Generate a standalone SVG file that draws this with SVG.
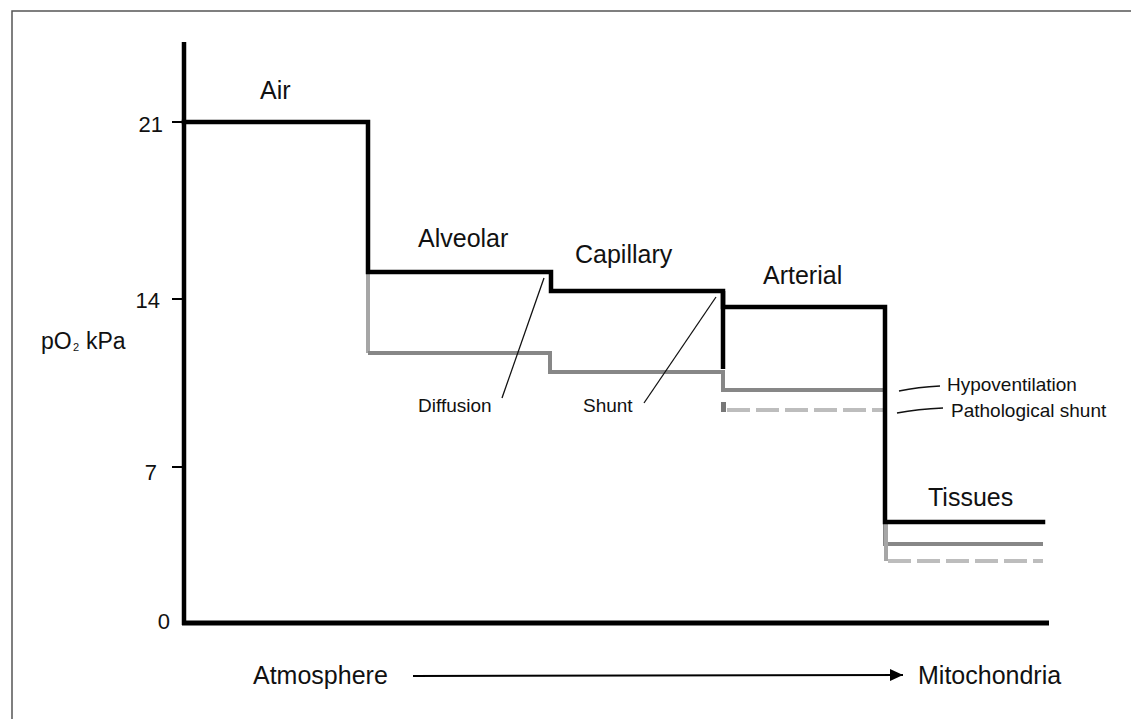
<svg xmlns="http://www.w3.org/2000/svg" width="1131" height="719" viewBox="0 0 1131 719">
<defs>
<style>
text{font-family:"Liberation Sans",Arial,sans-serif;fill:#111}
.stage{font-size:25px}
.lbl{font-size:19px}
.tick{font-size:22px;text-anchor:end}
.blk{fill:none;stroke:#000;stroke-width:4.5;stroke-linejoin:miter;stroke-linecap:square}
.gry{fill:none;stroke:#878787;stroke-width:4;stroke-linejoin:miter}
.lgt{fill:none;stroke:#a6a6a6;stroke-width:4}
.dsh{fill:none;stroke:#bdbdbd;stroke-width:4;stroke-dasharray:23 6}
.ptr{fill:none;stroke:#111;stroke-width:1.3}
</style>
<marker id="ah" markerWidth="14" markerHeight="12" refX="13" refY="6" orient="auto" markerUnits="userSpaceOnUse">
<polygon points="0,0 13,6 0,12" fill="#000"/>
</marker>
</defs>
<rect x="0" y="0" width="1131" height="719" fill="#fff"/>
<rect x="12" y="11" width="1130" height="730" fill="none" stroke="#555" stroke-width="1.5"/>

<g id="axes">
<line x1="184" y1="42" x2="184" y2="625" stroke="#000" stroke-width="4.5"/>
<line x1="182" y1="623" x2="1049" y2="623" stroke="#000" stroke-width="5"/>
<line x1="172" y1="122" x2="184" y2="122" stroke="#000" stroke-width="2"/>
<line x1="172" y1="299" x2="184" y2="299" stroke="#000" stroke-width="2"/>
<line x1="172" y1="467" x2="184" y2="467" stroke="#000" stroke-width="2"/>
<text class="tick" x="163" y="132">21</text>
<text class="tick" x="160" y="308">14</text>
<text class="tick" x="157" y="480">7</text>
<text class="tick" x="170" y="629">0</text>
<text x="41" y="349" font-size="23">pO</text>
<text x="73" y="351" font-size="11">2</text>
<text x="86" y="349" font-size="23">kPa</text>
</g>

<g id="normal-curve">
<line class="lgt" x1="368" y1="272" x2="368" y2="353"/>
<path class="gry" d="M368,353 H550 V372 H723 V390 H885"/>
<path class="gry" d="M885,522 V544 H1043"/>
<line class="dsh" x1="727" y1="410" x2="885" y2="410"/>
<rect x="721" y="402" width="5" height="10" fill="#777"/>
<line class="lgt" x1="886" y1="522" x2="886" y2="561"/>
<line class="dsh" x1="888" y1="561" x2="1043" y2="561"/>
<path class="blk" d="M184,122 H368 V272 H551 V291 H723 V307 H885 V522 H1043"/>
<line x1="723" y1="291" x2="723" y2="369" stroke="#000" stroke-width="4.5"/>
</g>

<g id="stage-labels">
<text class="stage" x="260" y="99">Air</text>
<text class="stage" x="418" y="247">Alveolar</text>
<text class="stage" x="575" y="263">Capillary</text>
<text class="stage" x="763" y="284">Arterial</text>
<text class="stage" x="928" y="506">Tissues</text>
</g>

<g id="connectors">
<line class="ptr" x1="502" y1="398" x2="544" y2="278"/>
<line class="ptr" x1="644" y1="403" x2="716" y2="297"/>
<path class="ptr" d="M899,391 Q918,387 940,386"/>
<path class="ptr" d="M897,413 Q918,409 943,408"/>
<line x1="413" y1="676" x2="903" y2="675" stroke="#000" stroke-width="2" marker-end="url(#ah)"/>
</g>

<g id="annotations">
<text class="lbl" x="418" y="412">Diffusion</text>
<text class="lbl" x="583" y="412">Shunt</text>
<text class="lbl" x="947" y="391">Hypoventilation</text>
<text class="lbl" x="951" y="417">Pathological shunt</text>
</g>

<g id="x-labels">
<text class="stage" x="253" y="684">Atmosphere</text>
<text class="stage" x="918" y="684">Mitochondria</text>
</g>
</svg>
